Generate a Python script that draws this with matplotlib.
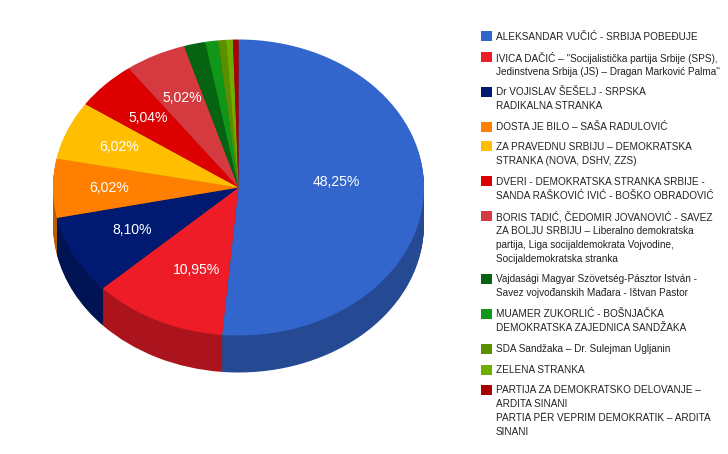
import matplotlib
matplotlib.use('Agg')
import matplotlib.pyplot as plt
from matplotlib.colors import to_rgb
from matplotlib.patches import Rectangle
import numpy as np

plt.rcParams['font.family'] = ['Liberation Sans', 'DejaVu Sans']

parties = [
    ['ALEKSANDAR VUČIĆ - SRBIJA POBEĐUJE'],
    ['IVICA DAČIĆ – "Socijalistička partija Srbije (SPS),',
     'Jedinstvena Srbija (JS) – Dragan Marković Palma"'],
    ['Dr VOJISLAV ŠEŠELJ - SRPSKA', 'RADIKALNA STRANKA'],
    ['DOSTA JE BILO – SAŠA RADULOVIĆ'],
    ['ZA PRAVEDNU SRBIJU – DEMOKRATSKA', 'STRANKA (NOVA, DSHV, ZZS)'],
    ['DVERI - DEMOKRATSKA STRANKA SRBIJE -', 'SANDA RAŠKOVIĆ IVIĆ - BOŠKO OBRADOVIĆ'],
    ['BORIS TADIĆ, ČEDOMIR JOVANOVIĆ - SAVEZ', 'ZA BOLJU SRBIJU – Liberalno demokratska',
     'partija, Liga socijaldemokrata Vojvodine,', 'Socijaldemokratska stranka'],
    ['Vajdasági Magyar Szövetség-Pásztor István -', 'Savez vojvođanskih Mađara - Ištvan Pastor'],
    ['MUAMER ZUKORLIĆ - BOŠNJAČKA', 'DEMOKRATSKA ZAJEDNICA SANDŽAKA'],
    ['SDA Sandžaka – Dr. Sulejman Ugljanin'],
    ['ZELENA STRANKA'],
    ['PARTIJA ZA DEMOKRATSKO DELOVANJE –', 'ARDITA SINANI',
     'PARTIA PËR VEPRIM DEMOKRATIK – ARDITA', 'SINANI'],
]
# the rest of the vote (invalid ballots etc) is not in the pie, so the slices get normalised
shares = [48.25, 10.95, 8.10, 6.02, 6.02, 5.04, 5.02, 1.75, 1.05, 0.65, 0.55, 0.45]
colors = ['#3366cc', '#ed1c27', '#001a72', '#ff8000', '#ffbf00', '#dc0000',
          '#d53a40', '#066312', '#109618', '#5a8f00', '#6fae00', '#a90000']

# layout, pixels
cx, cy, rx, ry, depth = 238.5, 187.5, 185.5, 148, 37
label_r = [0.53, 0.58, 0.64, 0.70, 0.70, 0.68, 0.68]
label_dx = [0, 5, -1, 0, 0, 0, 0]
label_dy = [-9, 5, -1, 0, 0, 0, 0]
legend_y = [36.7, 57.7, 92.3, 127, 146.7, 181.7, 216.7, 279.3, 314.3, 349.3, 370.3, 390.3]

fig = plt.figure(figsize=(7.28, 4.54), dpi=100)
ax = fig.add_axes([0, 0, 1, 1])

# side of the pie: stack of darker pies going up to the top face
side_colors = [tuple(c * 0.72 for c in to_rgb(col)) for col in colors]
for d in np.arange(depth, 0, -1):
    ax.pie(shares, colors=side_colors, startangle=90, counterclock=False,
           center=(0, -d / ry), normalize=True)
wedges, _ = ax.pie(shares, colors=colors, startangle=90, counterclock=False, normalize=True)

ax.set_aspect('auto')
ax.set_xlim(-cx / rx, (728 - cx) / rx)
ax.set_ylim((cy - 454) / ry, cy / ry)
ax.axis('off')

for wedge, value, r, dx, dy in zip(wedges, shares, label_r, label_dx, label_dy):
    mid = np.radians((wedge.theta1 + wedge.theta2) / 2)
    ax.text(r * np.cos(mid) + dx / rx, r * np.sin(mid) - dy / ry, f'{value:.2f}%'.replace('.', ','),
            color='white', fontsize=10.1, ha='center', va='center')

# legend on a pixel overlay
leg = fig.add_axes([0, 0, 1, 1])
leg.set_xlim(0, 728)
leg.set_ylim(454, 0)
leg.axis('off')
for lines, col, y in zip(parties, colors, legend_y):
    leg.add_patch(Rectangle((481, y - 5.5), 11, 10, color=col, lw=0))
    for i, line in enumerate(lines):
        leg.text(496, y + i * 14, line, fontsize=7.2, color='#222222', va='center', ha='left')

fig.savefig('out.png', dpi=100)
